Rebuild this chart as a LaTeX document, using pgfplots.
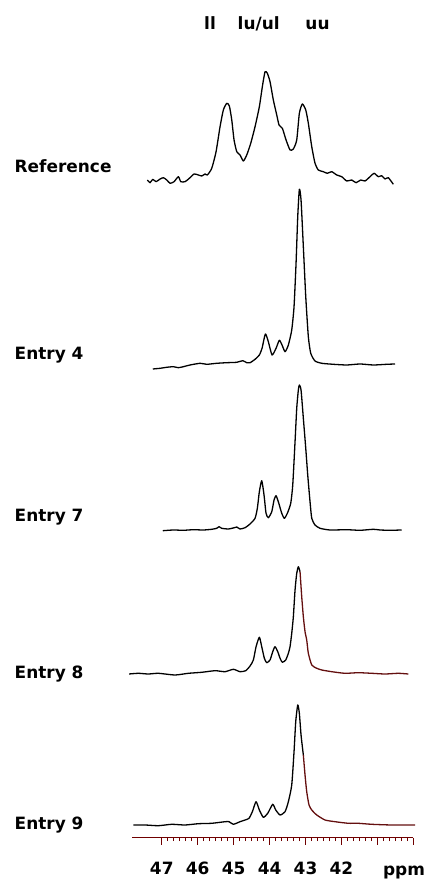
\documentclass[border=0pt]{standalone}
\usepackage{fontspec}
\setmainfont{DejaVu Sans}
\usepackage{pgfplots}
\usepackage{pgfplotstable}
\pgfplotsset{compat=1.18}
\definecolor{axiscol}{RGB}{112,0,0}
\definecolor{specred}{RGB}{100,15,15}

\pgfplotstableread{
ppm int
47.401 0
47.326 -2.7
47.250 0.7
47.159 -1.7
47.047 1
46.955 2.3
46.861 0
46.769 -3.3
46.658 -1.7
46.538 3.3
46.471 -1.7
46.352 -1.7
46.232 1.7
46.101 6
45.982 5
45.887 4
45.795 6
45.731 5
45.609 11.7
45.489 28.3
45.378 53.3
45.286 70
45.191 76.7
45.119 74
45.052 60
44.988 40
44.913 28.3
44.821 25
44.730 19
44.635 25
44.524 36.7
44.404 53.3
44.284 73.3
44.201 93.3
44.126 108.3
44.062 106.7
43.987 98.3
43.895 80
43.800 65
43.736 55
43.644 51.7
43.541 40
43.430 30
43.338 31
43.244 40
43.171 66.7
43.088 76
42.993 70
42.921 56.7
42.826 33.3
42.735 16.7
42.643 10
42.504 8.3
42.392 6.7
42.270 8.3
42.131 5
41.992 3.3
41.853 -1
41.713 0
41.594 -2.7
41.463 0
41.343 -1
41.204 3.3
41.093 6.7
40.973 3.3
40.879 4.3
40.787 1
40.695 2.3
40.556 -4.3
}\refdata

\pgfplotstableread{
ppm int
47.250 -3
47.047 -2.3
46.861 -1.3
46.677 -0.7
46.538 -1.7
46.399 -0.7
46.213 1
45.934 2.7
45.748 1.7
45.470 2.7
45.191 3.3
44.913 3.7
44.746 5.3
44.635 3.3
44.543 3.3
44.404 6.7
44.284 11
44.209 17.7
44.117 32
44.034 24.3
43.931 11
43.820 17.7
43.728 25.7
43.653 21
43.569 14.3
43.477 21
43.383 36
43.319 59.3
43.263 102.7
43.216 149.3
43.171 176.7
43.124 166
43.060 119.3
42.993 69.3
42.921 29.3
42.854 12.7
42.735 5
42.548 2.7
42.225 1.7
41.853 1
41.482 2
41.112 1
40.740 1.7
40.509 2
}\entryfour

\pgfplotstableread{
ppm int
46.972 -0.7
46.677 0
46.399 -0.3
46.121 0.3
45.843 0
45.609 0.7
45.470 1.7
45.406 3.3
45.331 1.7
45.147 1
44.980 2.3
44.913 3
44.821 1
44.682 2.3
44.543 6
44.404 11.7
44.340 21.7
44.284 38.3
44.218 49.3
44.154 35
44.098 16.7
44.034 12.3
43.939 18.3
43.875 30
43.820 34.3
43.756 28.3
43.661 16.7
43.589 11.7
43.505 16.7
43.411 26.7
43.355 45
43.291 88.3
43.244 121.7
43.199 140
43.171 145
43.124 140
43.060 111.7
42.993 81.7
42.938 55
42.874 28.3
42.826 11.7
42.735 5
42.596 1.7
42.317 0
41.853 0.3
41.482 -0.3
41.112 0.7
40.926 0
40.648 -0.3
40.322 0
}\entryseven

\pgfplotstableread{
ppm int
47.910 0
47.651 0.7
47.373 0
47.095 0.7
46.630 -1
46.260 0.7
45.887 1.7
45.517 3.3
45.239 2.3
45.008 4.7
44.821 2.3
44.663 3.3
44.543 8
44.451 14
44.376 27.3
44.284 36.7
44.218 27.3
44.145 15.7
44.079 11.3
43.987 14
43.912 22.3
43.848 27.3
43.772 22.3
43.708 15.7
43.644 11.7
43.550 14
43.477 20.7
43.430 27.3
43.383 40.7
43.338 57.3
43.291 84
43.244 100.7
43.199 107.3
43.152 102.3
43.105 77.3
43.060 57.3
43.013 42.3
42.966 34
42.921 20.7
42.826 9
42.687 5.7
42.548 4
42.270 2.3
41.900 0.7
41.530 1.3
41.157 0.7
40.787 0
40.417 0.7
40.139 0
}\entryeight

\pgfplotstableread{
ppm int
47.790 0
47.465 0
47.095 -0.7
46.722 0.7
46.352 0
45.982 1.3
45.609 1.7
45.239 3.3
45.127 3.3
45.008 0.7
44.821 3.3
44.682 5
44.571 6.7
44.479 13.3
44.376 23.3
44.284 15
44.173 7.7
44.051 11.7
43.912 20.7
43.828 15
43.708 10
43.569 13.3
43.477 23.3
43.383 40
43.319 73.3
43.272 103.3
43.216 120
43.171 111.7
43.124 90
43.060 70
43.013 50
42.966 33.3
42.902 20
42.826 15
42.687 10
42.456 5
42.178 3.3
41.808 1.7
41.530 1.7
41.157 0.7
40.600 0
39.952 0
}\entrynine

\begin{document}
\begin{tikzpicture}
\useasboundingbox (-132.3bp,-41.3bp) rectangle (295.7bp,837.7bp);
\begin{axis}[
  at={(0,0)}, anchor=south west,
  scale only axis, width=281bp, height=837.7bp,
  xmin=40, xmax=47.82, x dir=reverse,
  ymin=0, ymax=837.7,
  axis x line=bottom, axis y line=left,
  x axis line style={-, draw=axiscol, line width=1.3pt},
  y axis line style={draw=none},
  ytick=\empty,
  xtick={40,41,42,43,44,45,46,47},
  xticklabels={{},{},42,43,44,45,46,47},
  minor x tick num=5,
  xtick align=outside,
  major tick length=7bp, minor tick length=3.5bp,
  x tick style={draw=axiscol, line width=1pt},
  minor x tick style={draw=axiscol, line width=0.9pt},
  /pgf/number format/assume math mode=true,
  xticklabel style={font=\bfseries\fontsize{17}{20}\selectfont, text=black, anchor=base, yshift=-30bp},
  clip=false,
  every axis plot/.append style={line width=1.3bp, line join=round},
]
\addplot[black, no marks, smooth, tension=0.35] table[x=ppm, y expr=\thisrow{int}+657.7] {\refdata};
\addplot[black, no marks, smooth, tension=0.35] table[x=ppm, y expr=\thisrow{int}+471.7] {\entryfour};
\addplot[black, no marks, smooth, tension=0.35] table[x=ppm, y expr=\thisrow{int}+307.7] {\entryseven};
\addplot[black, no marks, smooth, tension=0.35, restrict x to domain=43.15:48] table[x=ppm, y expr=\thisrow{int}+163.7] {\entryeight};
\addplot[specred, no marks, smooth, tension=0.35, restrict x to domain=39:43.16] table[x=ppm, y expr=\thisrow{int}+163.7] {\entryeight};
\addplot[black, no marks, smooth, tension=0.35, restrict x to domain=43.05:48] table[x=ppm, y expr=\thisrow{int}+12.7] {\entrynine};
\addplot[specred, no marks, smooth, tension=0.35, restrict x to domain=39:43.07] table[x=ppm, y expr=\thisrow{int}+12.7] {\entrynine};
\end{axis}
\begin{scope}[every node/.style={inner sep=0pt, font=\bfseries\fontsize{17}{20}\selectfont}]
\node[anchor=base west] at (-117.8bp,665.4bp) {Reference};
\node[anchor=base west] at (-117.8bp,477.7bp) {Entry 4};
\node[anchor=base west] at (-117.8bp,315.7bp) {Entry 7};
\node[anchor=base west] at (-117.8bp,158.7bp) {Entry 8};
\node[anchor=base west] at (-117.8bp,8.7bp) {Entry 9};
\node[anchor=base] at (77.7bp,808.4bp) {ll};
\node[anchor=base] at (126.4bp,808.4bp) {lu/ul};
\node[anchor=base] at (185.2bp,808.4bp) {uu};
\node[anchor=base] at (271.7bp,-37.3bp) {ppm};
\end{scope}
\end{tikzpicture}
\end{document}
